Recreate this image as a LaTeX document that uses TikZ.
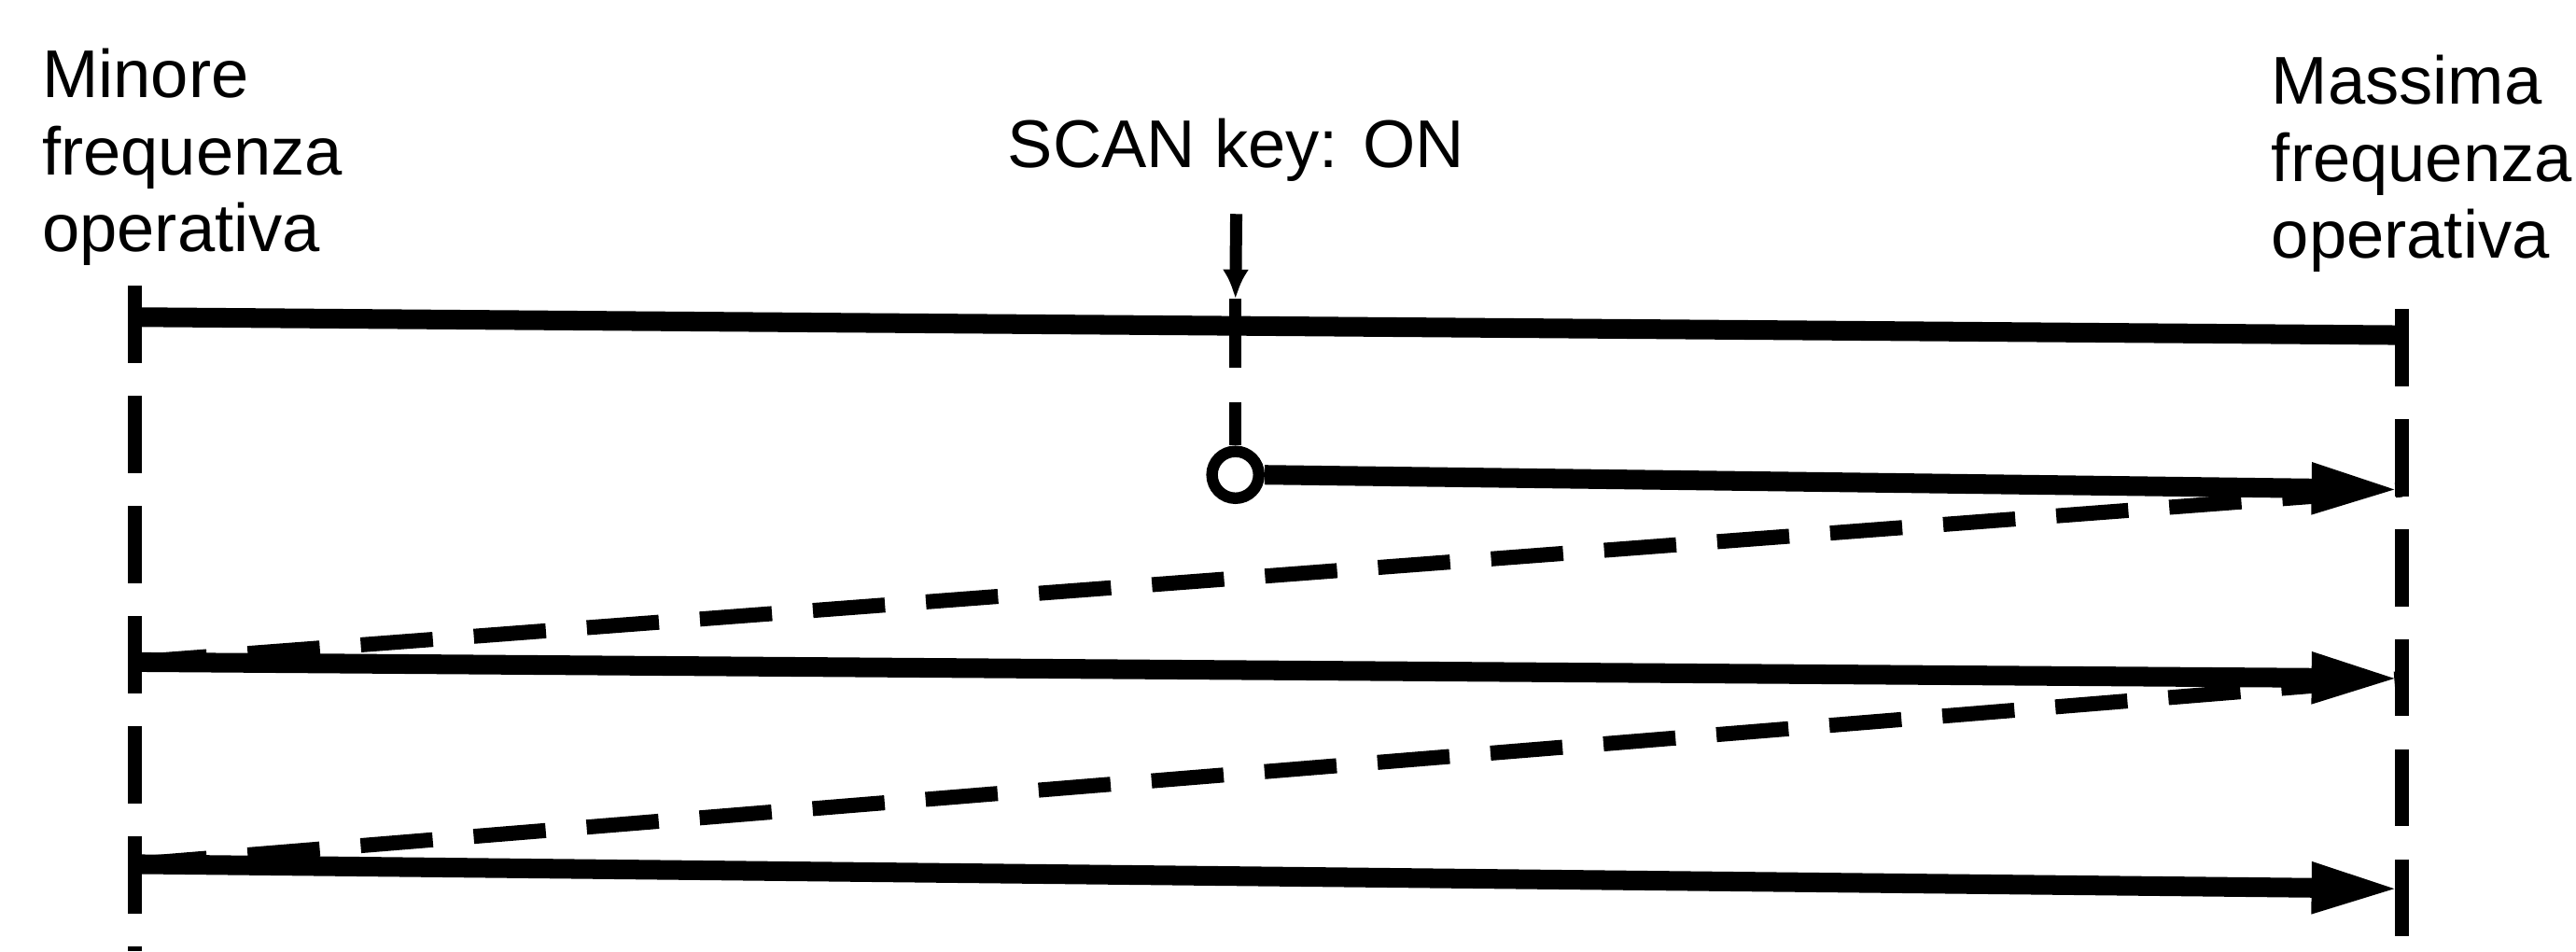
\documentclass[tikz,border=0pt]{standalone}
\usepackage{fontspec}
\setmainfont{Liberation Sans}
\usepackage{tikz}
\usetikzlibrary{arrows.meta,positioning,calc}

\begin{document}
\begin{tikzpicture}[>={Triangle[length=5.5mm,width=2.8mm]},
  linea/.style={line width=3.4pt},
  tratto/.style={line width=2.6pt,dash pattern=on 4.4mm off 2.5mm},
  bordo/.style={line width=2.4pt,dash pattern=on 4.7mm off 2mm},
  testo/.style={font=\fontsize{11.7}{13.3}\selectfont,inner sep=0pt,align=left}]
  \useasboundingbox (0,0) rectangle (15.68,5.79);
  % etichette
  \node[testo,anchor=north west] (minf) at (0.25,5.50) {Minore\\frequenza\\operativa};
  \node[testo,anchor=north west] (maxf) at (13.82,5.46) {Massima\\frequenza\\operativa};
  \node[testo,anchor=base] (scan) at (7.525,4.77) {SCAN key: ON};
  % limiti della banda (tratteggio verticale)
  \coordinate (sxalto) at (0.82,4.05); \coordinate (sxbasso) at (0.82,0);
  \coordinate (dxalto) at (14.62,3.91); \coordinate (dxbasso) at (14.62,0);
  \draw[bordo] (sxalto) -- (sxbasso);
  \draw[bordo] (dxalto) -- (dxbasso);
  % estremi delle passate
  \coordinate (a1) at (0.82,3.86); \coordinate (b1) at (14.62,3.75);
  \coordinate (b2) at (14.62,2.81);
  \coordinate (a3) at (0.82,1.76); \coordinate (b3) at (14.62,1.66);
  \coordinate (a4) at (0.82,0.53); \coordinate (b4) at (14.62,0.38);
  % ritorni (tratteggiati)
  \draw[tratto] (a3) -- (b2);
  \draw[tratto] (a4) -- (b3);
  % passate
  \draw[linea] (a1) -- (b1);
  \node[circle,draw,line width=2pt,minimum size=2.85mm,inner sep=0pt] (tasto) at (7.52,2.90) {};
  \draw[linea,->] (tasto.east) -- (b2);
  \draw[linea,->] (a3) -- (b3);
  \draw[linea,->] (a4) -- (b4);
  % pressione del tasto
  \coordinate[below=1.9mm of scan] (s1);
  \coordinate (s2) at (7.52,3.97); \coordinate (s3) at (7.52,3.55); \coordinate (s4) at (7.52,3.34);
  \draw[line width=2.1pt,-{Latex[length=1.8mm,width=1.6mm]}] (s1) -- (s2);
  \draw[line width=2.1pt] (s2) -- (s3);
  \draw[line width=2.1pt] (s4) -- (tasto.north);
\end{tikzpicture}
\end{document}
